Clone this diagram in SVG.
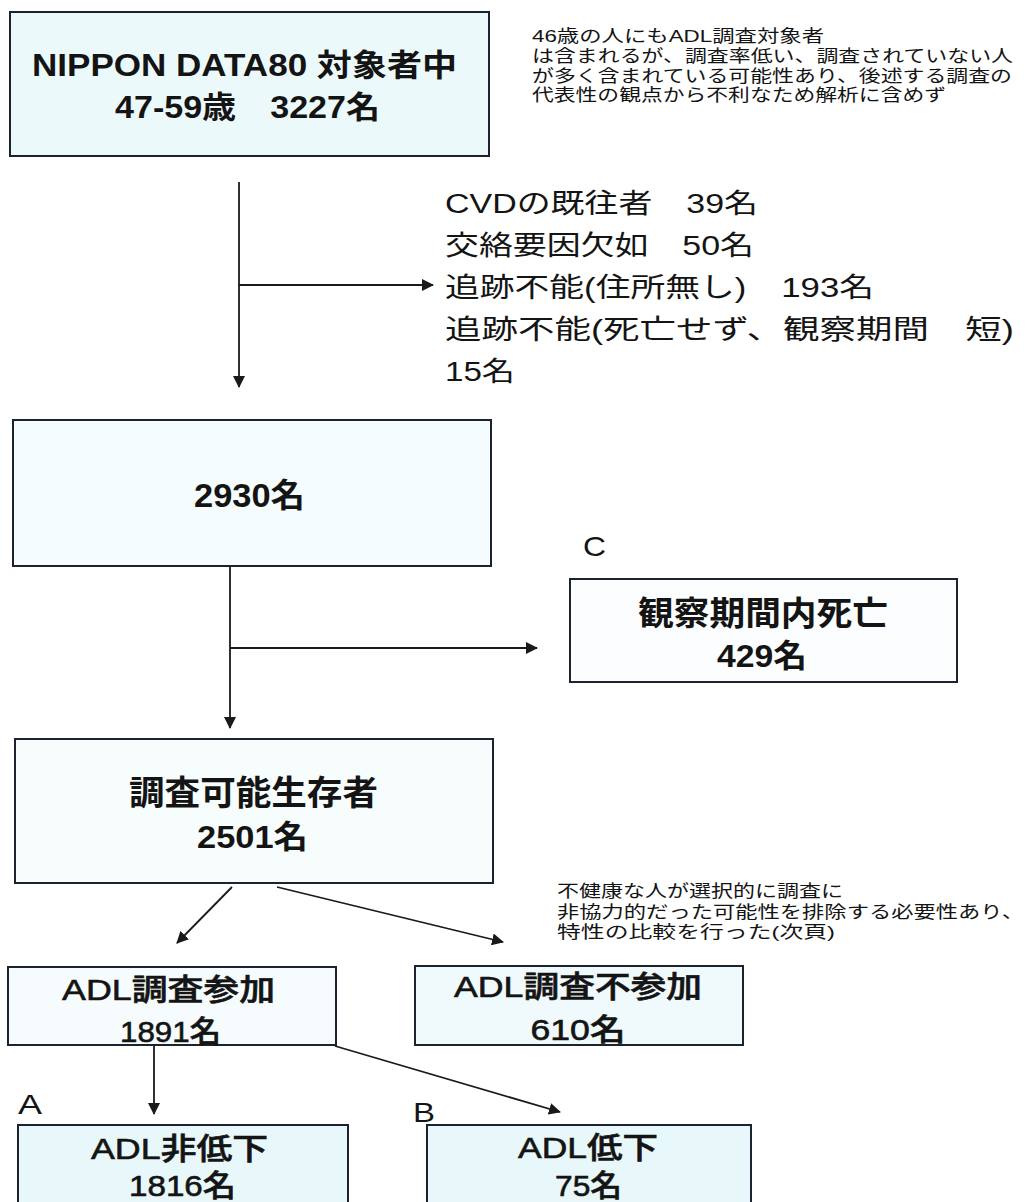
<svg xmlns="http://www.w3.org/2000/svg" width="1028" height="1202" viewBox="0 0 1028 1202">
<style>
text{font-family:"Liberation Sans","Noto Sans CJK JP",sans-serif;fill:#141414}
.box{stroke:#1c2230;stroke-width:2}
.b{font-weight:bold}
.m{text-anchor:middle}
.conn{stroke:#1a1a1a;stroke-width:1.8;fill:none;marker-end:url(#ah)}
.note{font-size:17px}
.list{font-size:27px}
.lbl{font-size:28px}
.adl{font-size:30px;font-weight:500;stroke:#141414;stroke-width:0.6}
</style>
<defs>
<marker id="ah" markerUnits="userSpaceOnUse" markerWidth="12" markerHeight="12" refX="11" refY="6" orient="auto">
<path d="M0,0 L12,6 L0,12 z" fill="#1a1a1a"/>
</marker>
</defs>
<rect width="1028" height="1202" fill="#ffffff"/>

<g id="connectors">
<line class="conn" x1="239" y1="182" x2="239" y2="387"/>
<line class="conn" x1="239" y1="285" x2="433" y2="285"/>
<line class="conn" x1="230" y1="567" x2="230" y2="728"/>
<line class="conn" x1="230" y1="648" x2="537" y2="648"/>
<line class="conn" x1="232" y1="887" x2="177" y2="943"/>
<line class="conn" x1="277" y1="887" x2="503" y2="942"/>
<line class="conn" x1="154" y1="1046" x2="154" y2="1114"/>
<line class="conn" x1="335" y1="1046" x2="560" y2="1112"/>
</g>

<g id="node-start">
<rect class="box" x="10" y="12" width="479" height="144" fill="#ecf9fb"/>
<text class="b m" x="244.5" y="76" font-size="31" textLength="425" lengthAdjust="spacingAndGlyphs">NIPPON DATA80 対象者中</text>
<text class="b m" x="247.5" y="118" font-size="31" textLength="265" lengthAdjust="spacingAndGlyphs">47-59歳　3227名</text>
</g>

<g id="note-top">
<text class="note" x="532" y="42" textLength="292" lengthAdjust="spacingAndGlyphs">46歳の人にもADL調査対象者</text>
<text class="note" x="532" y="62" textLength="481" lengthAdjust="spacingAndGlyphs">は含まれるが、調査率低い、調査されていない人</text>
<text class="note" x="532" y="82" textLength="480" lengthAdjust="spacingAndGlyphs">が多く含まれている可能性あり、後述する調査の</text>
<text class="note" x="532" y="101" textLength="414" lengthAdjust="spacingAndGlyphs">代表性の観点から不利なため解析に含めず</text>
</g>

<g id="excluded-list">
<text class="list" x="445" y="213" textLength="313" lengthAdjust="spacingAndGlyphs">CVDの既往者　39名</text>
<text class="list" x="445" y="255" textLength="309" lengthAdjust="spacingAndGlyphs">交絡要因欠如　50名</text>
<text class="list" x="445" y="297" textLength="429" lengthAdjust="spacingAndGlyphs">追跡不能(住所無し)　193名</text>
<text class="list" x="445" y="339" textLength="569" lengthAdjust="spacingAndGlyphs">追跡不能(死亡せず、観察期間　短)</text>
<text class="list" x="445" y="381" textLength="70" lengthAdjust="spacingAndGlyphs">15名</text>
</g>

<g id="node-2930">
<rect class="box" x="13" y="420" width="478" height="146" fill="#f5fcfd"/>
<text class="b m" x="249.5" y="507" font-size="33" textLength="111" lengthAdjust="spacingAndGlyphs">2930名</text>
</g>

<g id="label-c">
<text class="lbl" x="583" y="556" textLength="23" lengthAdjust="spacingAndGlyphs">C</text>
</g>

<g id="node-death">
<rect class="box" x="570" y="579" width="387" height="103" fill="#fbfdfe"/>
<text class="b m" x="763" y="625" font-size="33" textLength="250" lengthAdjust="spacingAndGlyphs">観察期間内死亡</text>
<text class="b m" x="762" y="667" font-size="32" textLength="90" lengthAdjust="spacingAndGlyphs">429名</text>
</g>

<g id="node-survivors">
<rect class="box" x="15" y="739" width="478" height="144" fill="#f7fcfd"/>
<text class="b m" x="253.5" y="805" font-size="34" textLength="249" lengthAdjust="spacingAndGlyphs">調査可能生存者</text>
<text class="b m" x="252.5" y="848" font-size="32" textLength="111" lengthAdjust="spacingAndGlyphs">2501名</text>
</g>

<g id="note-bias">
<text class="note" x="557" y="897" textLength="286" lengthAdjust="spacingAndGlyphs">不健康な人が選択的に調査に</text>
<text class="note" x="557" y="918" textLength="467" lengthAdjust="spacingAndGlyphs">非協力的だった可能性を排除する必要性あり、</text>
<text class="note" x="557" y="938" textLength="278" lengthAdjust="spacingAndGlyphs">特性の比較を行った(次頁)</text>
</g>

<g id="node-adl-join">
<rect class="box" x="8" y="967" width="328" height="78" fill="#f6fcfd"/>
<text class="adl m" x="168.5" y="1000" textLength="213" lengthAdjust="spacingAndGlyphs">ADL調査参加</text>
<text class="adl m" x="170.5" y="1042" textLength="101" lengthAdjust="spacingAndGlyphs">1891名</text>
</g>

<g id="node-adl-nonjoin">
<rect class="box" x="415" y="966" width="328" height="79" fill="#f0fafc"/>
<text class="adl m" x="578" y="997" textLength="248" lengthAdjust="spacingAndGlyphs">ADL調査不参加</text>
<text class="adl m" x="578" y="1040" textLength="95" lengthAdjust="spacingAndGlyphs">610名</text>
</g>

<g id="label-a">
<text class="lbl" x="18" y="1114" textLength="24" lengthAdjust="spacingAndGlyphs">A</text>
</g>
<g id="label-b">
<text class="lbl" x="413" y="1122" textLength="22" lengthAdjust="spacingAndGlyphs">B</text>
</g>

<g id="node-adl-normal">
<rect class="box" x="18" y="1125" width="330" height="100" fill="#e8f7fa"/>
<text class="adl m" x="179.5" y="1159" textLength="177" lengthAdjust="spacingAndGlyphs">ADL非低下</text>
<text class="adl m" x="182.5" y="1196" textLength="107" lengthAdjust="spacingAndGlyphs">1816名</text>
</g>

<g id="node-adl-decline">
<rect class="box" x="427" y="1125" width="324" height="100" fill="#e8f7fa"/>
<text class="adl m" x="588" y="1158" textLength="140" lengthAdjust="spacingAndGlyphs">ADL低下</text>
<text class="adl m" x="588.5" y="1196" textLength="67" lengthAdjust="spacingAndGlyphs">75名</text>
</g>
</svg>
